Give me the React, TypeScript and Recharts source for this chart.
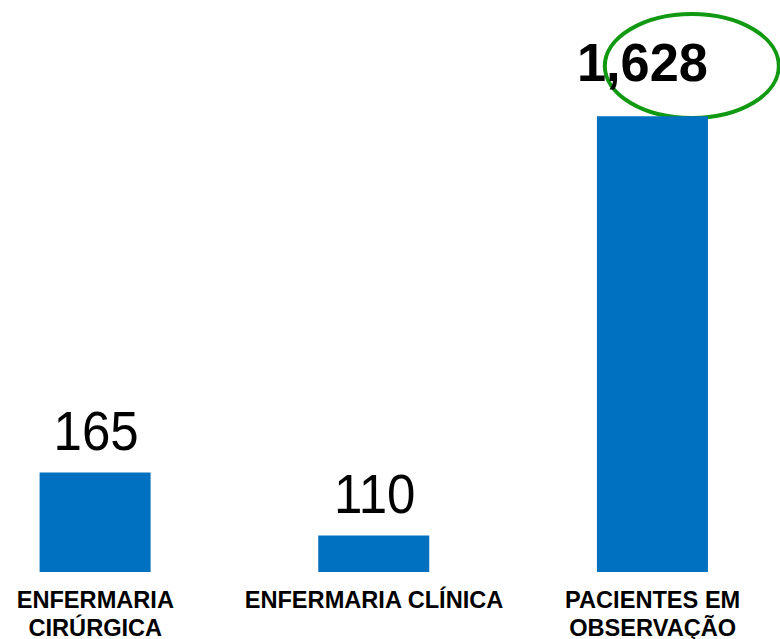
import React from "react";
import { BarChart, Bar, XAxis, YAxis, LabelList, Customized } from "recharts";

const categories = ["ENFERMARIA\nCIRÚRGICA", "ENFERMARIA CLÍNICA", "PACIENTES EM\nOBSERVAÇÃO"];
const patients = [165, 110, 1628];
const highlighted = [false, false, true];

const data = categories.map((name, i) => ({ name, value: patients[i], hl: highlighted[i] }));

const SHIFT = -43.8;
const FONT = "'Liberation Sans', Arial, Helvetica, sans-serif";

const CategoryTick = (props: any) => {
  const { x, y, payload } = props;
  const lines = String(payload.value).split("\n");
  return (
    <g>
      {lines.map((ln, i) => (
        <text
          key={i}
          x={x}
          y={y + 36 + i * 27.7}
          textAnchor="middle"
          fontFamily={FONT}
          fontWeight="bold"
          fontSize={23.6}
          fill="#000"
        >
          {ln}
        </text>
      ))}
    </g>
  );
};

const ValueLabel = (props: any) => {
  const vb = props.viewBox || {};
  const x = props.x ?? vb.x;
  const y = props.y ?? vb.y;
  const width = props.width ?? vb.width;
  const index = props.index;
  const value = Number(props.value);
  const hl = highlighted[index];
  const cx = x + width / 2 + (hl ? -10 : 1);
  const by = y - (hl ? 35 : 22);
  return (
    <text
      transform={`translate(${cx},${by}) scale(${hl ? 0.96 : 0.92},1)`}
      x={0}
      y={0}
      textAnchor="middle"
      fontFamily={FONT}
      fontWeight={hl ? "bold" : "normal"}
      fontSize={hl ? 54.5 : 55.5}
      fill="#000"
    >
      {value.toLocaleString("en-US")}
    </text>
  );
};

const Highlight = () => (
  <ellipse cx={692 - SHIFT} cy={66} rx={87} ry={52} fill="none" stroke="#119a11" strokeWidth={4} />
);

export default function App() {
  return (
    <div style={{ position: "fixed", left: 0, top: 0, width: 780, height: 639, overflow: "hidden", background: "#fff" }}>
      <div style={{ position: "absolute", left: SHIFT, top: 0 }}>
        <BarChart
          width={836}
          height={639}
          data={data}
          margin={{ top: 21, right: 0, left: 0, bottom: 0 }}
          barCategoryGap="30%"
        >
          <XAxis
            dataKey="name"
            axisLine={false}
            tickLine={false}
            tickSize={0}
            tickMargin={0}
            height={67}
            interval={0}
            tick={<CategoryTick />}
          />
          <YAxis hide type="number" scale="log" domain={[87, 3000]} allowDataOverflow />
          <Bar dataKey="value" fill="#0070C0" isAnimationActive={false}>
            <LabelList dataKey="value" content={<ValueLabel />} />
          </Bar>
          <Customized component={Highlight} />
        </BarChart>
      </div>
    </div>
  );
}
